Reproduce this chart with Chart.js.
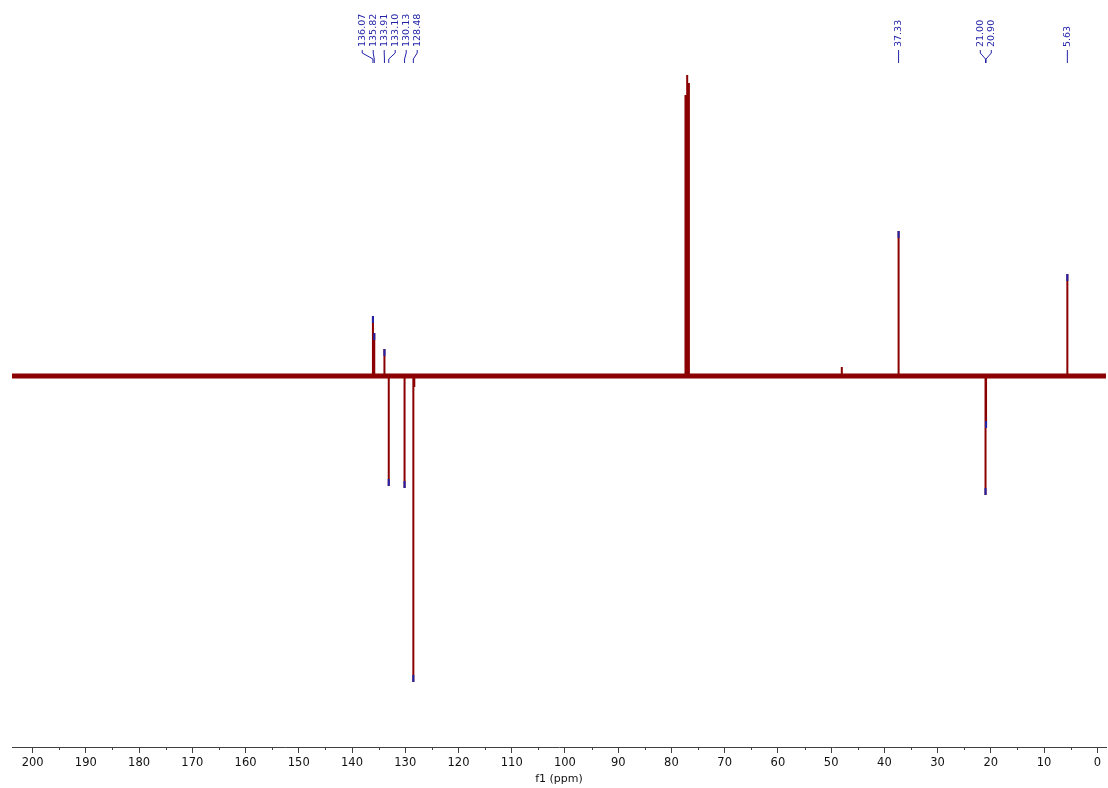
<!DOCTYPE html>
<html>
<head>
<meta charset="utf-8">
<script src="https://cdn.jsdelivr.net/npm/chart.js@4.4.1/dist/chart.umd.min.js"></script>
<style>
  html, body { margin: 0; padding: 0; background: #fff; }
</style>
</head>
<body>
<canvas id="nmrChart" width="1108" height="788"></canvas>
<script>
// ---- axis ----
const ppmLeft = 203.87;
const ppmRight = -1.63;
const majorTicks = [0, 10, 20, 30, 40, 50, 60, 70, 80, 90, 100, 110, 120, 130, 140, 150, 160, 170, 180, 190, 200];

// ---- picked (labelled) peaks ----
const pickedShifts  = [136.07, 135.82, 133.91, 133.10, 130.13, 128.48, 37.33, 21.00, 20.90, 5.63];
const pickedHeights = [60, 43, 27, -110, -112, -306, 145, -119, -52, 102];

// ---- unlabelled signals (CDCl3 triplet, small bumps) ----
const otherShifts  = [77.36, 77.04, 76.72, 128.30, 48.00];
const otherHeights = [281, 301, 293, -11, 9];

const RED = '#8b0000';
const BLUE = '#2323a8';

function stickPoints(shifts, heights) {
    const pts = [];
    shifts.forEach((s, i) => {
        pts.push({ x: s, y: 0 }, { x: s, y: heights[i] }, { x: s, y: null });
    });
    return pts;
}

function tipPoints(shifts, heights) {
    const pts = [];
    shifts.forEach((s, i) => {
        const h = heights[i];
        pts.push({ x: s, y: h }, { x: s, y: h - Math.sign(h) * 7 }, { x: s, y: null });
    });
    return pts;
}

// ================= MINOR TICKS =================
const minorTicks = {
    id: 'minorTicks',
    afterDraw(chart) {
        const x = chart.scales.x;
        const ctx = chart.ctx;
        const y0 = chart.chartArea.bottom;
        ctx.save();
        ctx.strokeStyle = '#404040';
        ctx.lineWidth = 1;
        majorTicks.forEach(v => {
            const m = v + 5;
            if (m > 200) return;
            const px = Math.round(x.getPixelForValue(m)) + 0.5;
            ctx.beginPath();
            ctx.moveTo(px, y0);
            ctx.lineTo(px, y0 + 3);
            ctx.stroke();
        });
        ctx.restore();
    }
};

// ================= PEAK LABELS =================
const peakLabels = {
    id: 'peakLabels',
    afterDraw(chart) {
        const x = chart.scales.x;
        const ctx = chart.ctx;
        const gap = 11;

        const items = pickedShifts
            .map(s => ({ s: s, px: x.getPixelForValue(s) }))
            .sort((a, b) => a.px - b.px);

        // spread labels so they do not overlap
        let groups = items.map(it => ({ items: [it] }));
        const centre = g => g.items.reduce((a, it) => a + it.px, 0) / g.items.length;
        let merged = true;
        while (merged) {
            merged = false;
            for (let i = 0; i < groups.length - 1; i++) {
                const a = groups[i], b = groups[i + 1];
                const aRight = centre(a) + (a.items.length - 1) * gap / 2;
                const bLeft = centre(b) - (b.items.length - 1) * gap / 2;
                if (bLeft - aRight < gap) {
                    groups.splice(i, 2, { items: a.items.concat(b.items) });
                    merged = true;
                    break;
                }
            }
        }

        ctx.save();
        ctx.fillStyle = BLUE;
        ctx.strokeStyle = BLUE;
        ctx.lineWidth = 1;
        ctx.font = '9.5px "DejaVu Sans", Verdana, sans-serif';
        ctx.textAlign = 'left';
        ctx.textBaseline = 'middle';

        groups.forEach(g => {
            const c = centre(g);
            g.items.forEach((it, k) => {
                const lx = c - (g.items.length - 1) * gap / 2 + k * gap;

                ctx.save();
                ctx.translate(lx, 47);
                ctx.rotate(-Math.PI / 2);
                ctx.fillText(it.s.toFixed(2), 0, 0);
                ctx.restore();

                ctx.beginPath();
                ctx.moveTo(lx, 50);
                ctx.lineTo(lx, 53);
                ctx.lineTo(it.px, 59);
                ctx.lineTo(it.px, 63);
                ctx.stroke();
            });
        });
        ctx.restore();
    }
};

// ================= SPECTRUM =================
new Chart(document.getElementById('nmrChart'), {
    type: 'line',
    data: {
        datasets: [
            {
                // peak-pick markers at the tips
                data: tipPoints(pickedShifts, pickedHeights),
                borderColor: BLUE,
                borderWidth: 2,
                pointRadius: 0,
                spanGaps: false
            },
            {
                data: stickPoints(pickedShifts, pickedHeights).concat(stickPoints(otherShifts, otherHeights)),
                borderColor: RED,
                borderWidth: 2,
                pointRadius: 0,
                spanGaps: false
            },
            {
                // noisy baseline band
                data: [{ x: ppmLeft, y: 0 }, { x: ppmRight, y: 0 }],
                borderColor: RED,
                borderWidth: 5,
                pointRadius: 0
            }
        ]
    },
    options: {
        responsive: false,
        animation: false,
        devicePixelRatio: 1,
        layout: {
            padding: { left: 12, right: 2, top: 0, bottom: 0 }
        },
        plugins: {
            legend: { display: false },
            tooltip: { enabled: false }
        },
        scales: {
            x: {
                type: 'linear',
                reverse: true,
                min: ppmRight,
                max: ppmLeft,
                afterBuildTicks: scale => {
                    scale.ticks = majorTicks.map(v => ({ value: v }));
                },
                border: { display: true, color: '#404040', width: 1 },
                grid: {
                    drawOnChartArea: false,
                    tickLength: 6,
                    tickColor: '#404040'
                },
                ticks: {
                    color: '#111',
                    padding: 3,
                    maxRotation: 0,
                    autoSkip: false,
                    font: { family: '"DejaVu Sans", Verdana, sans-serif', size: 11.5 }
                },
                title: {
                    display: true,
                    text: 'f1 (ppm)',
                    color: '#111',
                    padding: { top: 0, bottom: 2 },
                    font: { family: '"DejaVu Sans", Verdana, sans-serif', size: 11 }
                }
            },
            y: {
                display: false,
                min: -371,
                max: 376
            }
        }
    },
    plugins: [minorTicks, peakLabels]
});
</script>
</body>
</html>
